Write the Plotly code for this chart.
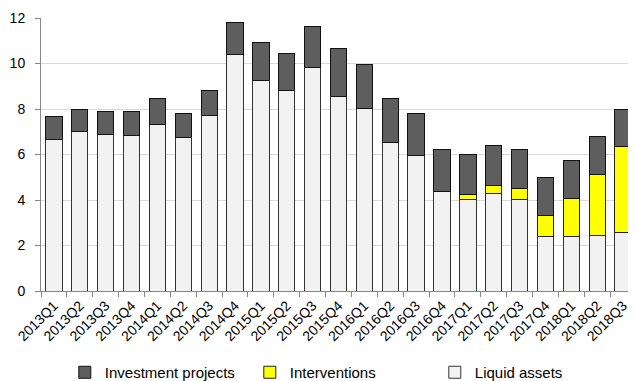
import plotly.graph_objects as go

quarters = ["2013Q1", "2013Q2", "2013Q3", "2013Q4", "2014Q1", "2014Q2", "2014Q3", "2014Q4",
            "2015Q1", "2015Q2", "2015Q3", "2015Q4", "2016Q1", "2016Q2", "2016Q3", "2016Q4",
            "2017Q1", "2017Q2", "2017Q3", "2017Q4", "2018Q1", "2018Q2", "2018Q3"]

liquid_assets = [6.68, 6.99, 6.90, 6.83, 7.33, 6.74, 7.72, 10.39, 9.27, 8.80, 9.84, 8.55,
                 8.01, 6.51, 5.94, 4.38, 4.04, 4.29, 4.04, 2.41, 2.38, 2.45, 2.57]
interventions = [0, 0, 0, 0, 0, 0, 0, 0, 0, 0, 0, 0,
                 0, 0, 0, 0, 0.22, 0.34, 0.45, 0.89, 1.68, 2.67, 3.78]
investment = [0.98, 0.98, 0.97, 1.05, 1.12, 1.06, 1.11, 1.41, 1.65, 1.65, 1.77, 2.09,
              1.96, 1.94, 1.88, 1.82, 1.72, 1.75, 1.71, 1.68, 1.66, 1.67, 1.63]

fnt = "Arial, Liberation Sans, sans-serif"

fig = go.Figure()
fig.add_bar(x=quarters, y=liquid_assets, name="Liquid assets",
            marker=dict(color="#f2f2f2", line=dict(color="#333333", width=1)))
fig.add_bar(x=quarters, y=interventions, name="Interventions",
            marker=dict(color="#ffff00", line=dict(color="#222222", width=1)))
fig.add_bar(x=quarters, y=investment, name="Investment projects",
            marker=dict(color="#5e5e5e", line=dict(color="#111111", width=1)))

# page body adds 8px, so the figure is shifted; bottom 8px falls off screen
fig.update_layout(
    width=628, height=381,
    barmode="stack", bargap=0.37,
    margin=dict(l=33, r=0, t=10, b=97),
    plot_bgcolor="white", paper_bgcolor="white",
    font=dict(family=fnt, size=14, color="black"),
    showlegend=True,
    legend=dict(orientation="h", traceorder="reversed", x=0.04, xanchor="left",
                y=-0.30, yanchor="middle", font=dict(size=15),
                entrywidth=140, itemwidth=30),
)
fig.update_xaxes(tickangle=-45, ticks="outside", tickson="boundaries", ticklen=5,
                 tickcolor="#888888", showline=True, linecolor="#888888",
                 tickfont=dict(size=14), range=[-0.5, 22.5])
fig.update_yaxes(range=[0, 12], dtick=2, showgrid=True, gridcolor="#d9d9d9",
                 showline=True, linecolor="#888888", ticks="outside", ticklen=5,
                 tickcolor="#888888", ticklabelstandoff=7,
                 tickfont=dict(size=14), zeroline=False)

fig.write_html("out.html")
